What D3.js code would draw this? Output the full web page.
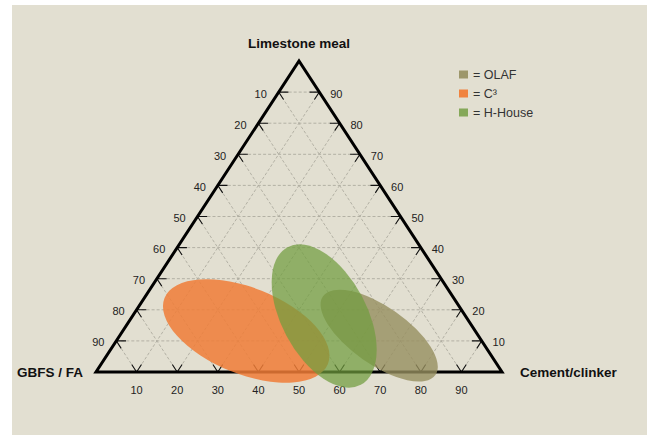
<!DOCTYPE html>
<html>
<head>
<meta charset="utf-8">
<script src="https://cdn.jsdelivr.net/npm/d3@7"></script>
<style>
  html, body { margin: 0; padding: 0; background: #ffffff; }
  svg { display: block; }
  text { font-family: "Liberation Sans", Arial, sans-serif; }
</style>
</head>
<body>
<svg id="chart" width="647" height="435"></svg>
<script>
// ---- data ----
const axisTitles = ["Cement/clinker", "Limestone meal", "GBFS / FA"];
const tickValues = [10, 20, 30, 40, 50, 60, 70, 80, 90];
const regionNames = ["C³", "OLAF", "H-House"];
// ellipse centre composition (cement %, limestone %; GBFS = rest)
const regionCement = [30.4, 63.9, 47.2];
const regionLimestone = [13.2, 11.7, 18.0];
// semi-axes in % of the base, rotation in degrees
const regionMajor = [21.7, 16.9, 19.2];
const regionMinor = [10.6, 7.1, 10.5];
const regionAngle = [22, 35, 62];
const regionColors = ["#f07d37", "#968f5f", "#709c3e"];
const regionOpacity = [0.85, 0.8, 0.72];
const legendOrder = ["OLAF", "C³", "H-House"];

// ---- drawing ----
const svg = d3.select("#chart");
svg.append("rect").attr("x", 12).attr("y", 5).attr("width", 635).attr("height", 430).attr("fill", "#e2dfd1");

const xScale = d3.scaleLinear().domain([0, 100]).range([96, 502]);
const yScale = d3.scaleLinear().domain([0, 100]).range([372, 61]);
const pt = (c, l) => [xScale(c + l / 2), yScale(l)];
const line = d3.line();

const grid = svg.append("g");
tickValues.forEach(v => {
  const segs = [
    [pt(0, v), pt(100 - v, v)],
    [pt(v, 0), pt(v, 100 - v)],
    [pt(100 - v, 0), pt(0, 100 - v)]
  ];
  segs.forEach(s => grid.append("path").attr("d", line(s))
    .attr("stroke", "#aeab9f").attr("stroke-width", 0.9)
    .attr("stroke-dasharray", "3,2").attr("fill", "none"));
});

// tick arms
const d = 2.4;
const ticks = svg.append("g").attr("stroke", "#111").attr("stroke-width", 1.1).attr("fill", "none");
tickValues.forEach(v => {
  ticks.append("path").attr("d", line([pt(d, v), pt(0, v), pt(d, v - d)]));
  ticks.append("path").attr("d", line([pt(100 - v - d, v), pt(100 - v, v), pt(100 - v, v - d)]));
  ticks.append("path").attr("d", line([pt(v - d, d), pt(v, 0), pt(v, d)]));
});

// triangle
svg.append("path")
  .attr("d", line([pt(0, 0), pt(100, 0), pt(0, 100)]) + "Z")
  .attr("fill", "none").attr("stroke", "#000").attr("stroke-width", 3)
  .attr("stroke-linejoin", "miter");

// tick labels
const lab = svg.append("g").attr("font-size", 11).attr("fill", "#222").attr("text-anchor", "middle");
tickValues.forEach(v => {
  const pl = pt(0, 100 - v);
  lab.append("text").attr("x", pl[0] - 18).attr("y", pl[1] + 5.5).text(v);
  const pr = pt(100 - v, v);
  lab.append("text").attr("x", pr[0] + 17).attr("y", pr[1] + 5.5).text(v);
  const pb = pt(v, 0);
  lab.append("text").attr("x", pb[0]).attr("y", 394).text(v);
});

// axis titles
const tt = svg.append("g").attr("font-size", 13.5).attr("font-weight", "bold").attr("fill", "#111");
tt.append("text").attr("x", pt(0, 100)[0]).attr("y", 48).attr("text-anchor", "middle").text(axisTitles[1]);
tt.append("text").attr("x", pt(0, 0)[0] - 13).attr("y", 377).attr("text-anchor", "end").text(axisTitles[2]);
tt.append("text").attr("x", pt(100, 0)[0] + 18).attr("y", 377).attr("text-anchor", "start").text(axisTitles[0]);

// regions
regionNames.forEach((n, i) => {
  const c = pt(regionCement[i], regionLimestone[i]);
  svg.append("ellipse")
    .attr("transform", `translate(${c[0]},${c[1]}) rotate(${regionAngle[i]})`)
    .attr("rx", xScale(regionMajor[i]) - xScale(0))
    .attr("ry", xScale(regionMinor[i]) - xScale(0))
    .attr("fill", regionColors[i]).attr("fill-opacity", regionOpacity[i]);
});

// legend
const lg = svg.append("g");
legendOrder.forEach((n, j) => {
  const i = regionNames.indexOf(n);
  const y = 74.5 + j * 19;
  lg.append("rect").attr("x", 459).attr("y", y - 4).attr("width", 9).attr("height", 8)
    .attr("fill", regionColors[i]).attr("fill-opacity", Math.min(1, regionOpacity[i] + 0.1));
  lg.append("text").attr("x", 473).attr("y", y + 4.5).attr("font-size", 12.5).attr("fill", "#333")
    .text("= " + n);
});
</script>
</body>
</html>
